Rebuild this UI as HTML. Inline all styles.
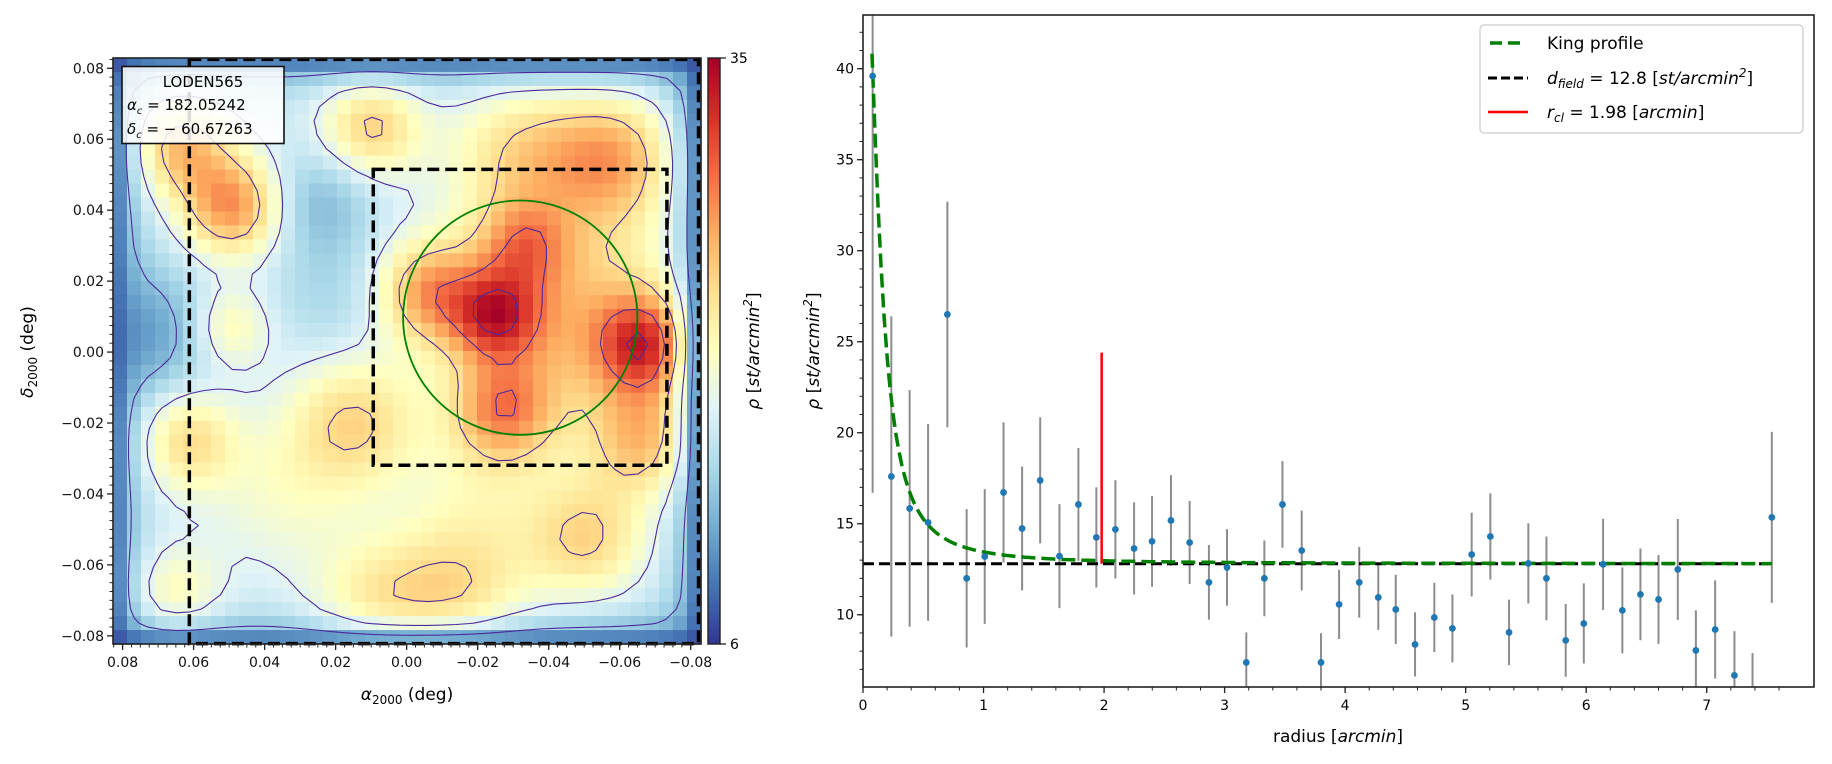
<!DOCTYPE html>
<html><head><meta charset="utf-8"><style>
html,body{margin:0;padding:0;background:#fff;}
svg{display:block;font-family:"DejaVu Sans","Liberation Sans",sans-serif;}
</style></head><body>
<svg id="fig" width="1832" height="764" viewBox="0 0 1832 764" xmlns="http://www.w3.org/2000/svg">
<g id="left"></g>
<g id="right"></g>
</svg>
<script>
const blobRA  = [-0.025,-0.068,-0.006,-0.027,-0.033,-0.058,-0.032,-0.068,-0.045,0.010,0.049,0.064,0.062,0.015,0.050,-0.051,0.008,-0.015,0.066,0.035,-0.02,0.025,0.072,0.020];
const blobDEC = [0.010,0.002,0.017,-0.017,0.030,0.055,0.057,-0.025,0.010,0.064,0.041,0.058,-0.025,-0.020,0.007,-0.053,-0.073,-0.071,-0.069,-0.040,-0.045,0.042,0.005,0.015];
const blobAmp = [11,13,9,9,7,9,6,8,8,8,11,9,7,7,5,7,6,6,5,3,3,-4,-5,-2];
const blobSig = [0.009,0.010,0.010,0.010,0.009,0.013,0.014,0.011,0.024,0.010,0.010,0.010,0.010,0.013,0.008,0.012,0.014,0.014,0.010,0.015,0.015,0.011,0.013,0.012];
const baseDensity = 16.5;
const contourLevels = [13, 18, 23.5, 29, 33];
const mapTicks = [0.08,0.06,0.04,0.02,0.00,-0.02,-0.04,-0.06,-0.08];
const cbarTicks = [35, 6];
const innerBox = [0.0094,-0.0733,0.0515,-0.0319];
const outerBox = [0.0612,-0.0822,0.0825,-0.0822];
const clusterCircle = [-0.032, 0.0097, 0.033];
// ---------- RIGHT PANEL DATA ----------
const radius = [0.08,0.235,0.387,0.54,0.70,0.86,1.01,1.166,1.32,1.47,1.63,1.787,1.936,2.094,2.249,2.398,2.555,2.71,2.87,3.02,3.18,3.33,3.48,3.64,3.80,3.95,4.117,4.275,4.42,4.58,4.74,4.89,5.05,5.205,5.36,5.52,5.67,5.83,5.98,6.14,6.30,6.45,6.60,6.76,6.91,7.07,7.23,7.38,7.54];
const density = [39.6,17.6,15.84,15.07,26.5,12.0,13.2,16.72,14.74,17.38,13.22,16.06,14.25,14.69,13.64,14.03,15.18,13.97,11.78,12.6,7.38,12.0,16.06,13.53,7.38,10.57,11.78,10.95,10.29,8.37,9.85,9.25,13.31,14.3,9.03,12.82,12.0,8.59,9.52,12.77,10.24,11.12,10.84,12.49,8.04,9.19,6.67,5.3,15.35];
const densErr = [22.9,8.8,6.5,5.4,6.2,3.8,3.7,3.85,3.4,3.46,2.86,3.1,2.75,2.7,2.53,2.49,2.49,2.28,2.05,2.1,1.65,2.08,2.38,2.2,1.6,1.9,1.94,1.78,1.9,1.76,1.9,1.87,2.3,2.37,1.8,2.2,2.3,2.0,2.2,2.5,2.36,2.52,2.44,2.77,2.2,2.7,2.43,2.6,4.7];
const dField = 12.8;
const rCluster = 1.98;
const kingCentral = 36.8, kingCore = 0.134;
const xTicksR = [0,1,2,3,4,5,6,7];
const yTicksR = [10,15,20,25,30,35,40];

const NS='http://www.w3.org/2000/svg';
function mk(tag, attrs, parent){const e=document.createElementNS(NS,tag);for(const k in attrs)e.setAttribute(k,attrs[k]);if(parent)parent.appendChild(e);return e;}
const L=document.getElementById('left'), R=document.getElementById('right');

const LX0=113, LX1=701, LY0=58, LY1=644;
const raMax=0.0827, raMin=-0.0829, decMax=0.0829, decMin=-0.0823;
function sxL(a){return LX0+(raMax-a)/(raMax-raMin)*(LX1-LX0);}
function syL(d){return LY0+(decMax-d)/(decMax-decMin)*(LY1-LY0);}
const cmap=[[49,54,149],[69,117,180],[116,173,209],[171,217,233],[224,243,248],[255,255,191],[254,224,144],[253,174,97],[244,109,67],[215,48,39],[165,0,38]];
function col(v){let t=(v-6)/(35-6);t=Math.max(0,Math.min(1,t))*10;const i=Math.min(9,Math.floor(t)),f=t-i;const a=cmap[i],b=cmap[i+1];return `rgb(${Math.round(a[0]+(b[0]-a[0])*f)},${Math.round(a[1]+(b[1]-a[1])*f)},${Math.round(a[2]+(b[2]-a[2])*f)})`;}
function field(a,d){let v=baseDensity;for(let k=0;k<blobRA.length;k++){const dx=a-blobRA[k],dy=d-blobDEC[k];v+=blobAmp[k]*Math.exp(-(dx*dx+dy*dy)/(2*blobSig[k]*blobSig[k]));}
  const ex=Math.min(a-raMin,raMax-a), ey=Math.min(d-decMin,decMax-d);
  const fx=1-Math.exp(-ex/0.005), fy=1-Math.exp(-ey/0.005);
  return 6.5+(v-6.5)*fx*fy;}
const N=42;
const grid=[];
const heat=mk('g',{},L);


for(let j=0;j<N;j++){grid.push([]);for(let i=0;i<N;i++){
  const a=raMax-(i+0.5)/N*(raMax-raMin), d=decMax-(j+0.5)/N*(decMax-decMin);
  const v=field(a,d);grid[j].push(v);
  const x0=sxL(raMax-i/N*(raMax-raMin)), x1=sxL(raMax-(i+1)/N*(raMax-raMin));
  const y0=syL(decMax-j/N*(decMax-decMin)), y1=syL(decMax-(j+1)/N*(decMax-decMin));
  const r=mk('rect',{x:x0.toFixed(2),y:y0.toFixed(2),width:(x1-x0+0.6).toFixed(2),height:(y1-y0+0.6).toFixed(2),fill:col(v)},heat);
  
  
}}
const cw=(LX1-LX0)/N, ch=(LY1-LY0)/N;
function cx(i){return LX0+(i+0.5)*cw;} function cy(j){return LY0+(j+0.5)*ch;}
contourLevels.forEach(lv=>{
  let p='';
  for(let j=0;j<N-1;j++){for(let i=0;i<N-1;i++){
    const v=[grid[j][i],grid[j][i+1],grid[j+1][i+1],grid[j+1][i]];
    const P=[[cx(i),cy(j)],[cx(i+1),cy(j)],[cx(i+1),cy(j+1)],[cx(i),cy(j+1)]];
    const pts=[];
    for(let e=0;e<4;e++){const a=v[e],b=v[(e+1)%4];if((a<lv)!==(b<lv)){const t=(lv-a)/(b-a);pts.push([P[e][0]+(P[(e+1)%4][0]-P[e][0])*t,P[e][1]+(P[(e+1)%4][1]-P[e][1])*t]);}}
    for(let k=0;k+1<pts.length;k+=2)p+=`M${pts[k][0].toFixed(1)},${pts[k][1].toFixed(1)}L${pts[k+1][0].toFixed(1)},${pts[k+1][1].toFixed(1)}`;
  }}
  const c=mk('path',{d:p,stroke:'#4b2a9a','stroke-width':1.1,fill:'none'},L);
  
  
});
function rectD(b){return `M${sxL(b[0])},${syL(b[2])}H${sxL(b[1])}V${syL(b[3])}H${sxL(b[0])}Z`;}
const ob=mk('path',{d:rectD(outerBox),stroke:'#000','stroke-width':3.5,'stroke-dasharray':'12,6',fill:'none'},L);


const ib=mk('path',{d:rectD(innerBox),stroke:'#000','stroke-width':3.5,'stroke-dasharray':'12,6',fill:'none'},L);


const cc=mk('circle',{cx:sxL(clusterCircle[0]),cy:syL(clusterCircle[1]),r:(sxL(0)-sxL(clusterCircle[2])),stroke:'#008000','stroke-width':1.8,fill:'none'},L);


mk('rect',{x:LX0,y:LY0,width:LX1-LX0,height:LY1-LY0,fill:'none',stroke:'#222','stroke-width':1.6},L);
mapTicks.forEach(t=>{
  const x=sxL(t), y=syL(t);
  mk('line',{x1:x,x2:x,y1:LY1,y2:LY1+6,stroke:'#222','stroke-width':1.3},L);
  const tx=mk('text',{x:x,y:LY1+23,'font-size':14,'text-anchor':'middle',fill:'#111'},L);tx.textContent=t.toFixed(2).replace('-','\u2212');
  
  
  mk('line',{x1:LX0-6,x2:LX0,y1:y,y2:y,stroke:'#222','stroke-width':1.3},L);
  const ty=mk('text',{x:LX0-9,y:y+5,'font-size':14,'text-anchor':'end',fill:'#111'},L);ty.textContent=t.toFixed(2).replace('-','\u2212');
  
  
});
for(let t=-0.08;t<=0.0826;t+=0.0025){const x=sxL(t),y=syL(t);
  mk('line',{x1:x,x2:x,y1:LY1,y2:LY1+3.5,stroke:'#222','stroke-width':1},L);
  mk('line',{x1:LX0-3.5,x2:LX0,y1:y,y2:y,stroke:'#222','stroke-width':1},L);}
const ibx=mk('g',{},L);
mk('rect',{x:122,y:66.5,width:162,height:77,fill:'rgba(255,255,255,0.85)',stroke:'#111','stroke-width':1.6},ibx);
let t1=mk('text',{x:203,y:87,'font-size':15,'text-anchor':'middle'},ibx);t1.textContent='LODEN565';
let t2=mk('text',{x:127,y:110,'font-size':15},ibx);t2.innerHTML='<tspan font-style="italic">α</tspan><tspan font-size="10" dy="4" font-style="italic">c</tspan><tspan dy="-4"> = 182.05242</tspan>';
let t3=mk('text',{x:127,y:134,'font-size':15},ibx);t3.innerHTML='<tspan font-style="italic">δ</tspan><tspan font-size="10" dy="4" font-style="italic">c</tspan><tspan dy="-4"> = − 60.67263</tspan>';
let xl=mk('text',{x:407,y:700,'font-size':17,'text-anchor':'middle'},L);xl.innerHTML='<tspan font-style="italic">α</tspan><tspan font-size="12" dy="4">2000</tspan><tspan dy="-4"> (deg)</tspan>';

let yl=mk('text',{x:0,y:0,'font-size':17,'text-anchor':'middle',transform:'translate(33,352) rotate(-90)'},L);yl.innerHTML='<tspan font-style="italic">δ</tspan><tspan font-size="12" dy="4">2000</tspan><tspan dy="-4"> (deg)</tspan>';

const cb=mk('g',{},L);
const defs=mk('defs',{},cb);const lg=mk('linearGradient',{id:'cbg',x1:0,y1:1,x2:0,y2:0},defs);
cmap.forEach((c,i)=>mk('stop',{offset:i/10,'stop-color':`rgb(${c})`},lg));
const CBX=708, CBW=12;
mk('rect',{x:CBX,y:LY0,width:CBW,height:LY1-LY0,fill:'url(#cbg)',stroke:'#222','stroke-width':1.4},cb);
cbarTicks.forEach(v=>{const y=LY1-(v-6)/(35-6)*(LY1-LY0);mk('line',{x1:CBX+CBW,x2:CBX+CBW+6,y1:y,y2:y,stroke:'#222','stroke-width':1.3},cb);
  const t=mk('text',{x:CBX+CBW+10,y:y+5,'font-size':14},cb);t.textContent=v;
  });
let cl=mk('text',{x:0,y:0,'font-size':17,'text-anchor':'middle',transform:'translate(759,351) rotate(-90)'},cb);cl.innerHTML='<tspan font-style="italic">ρ</tspan> [<tspan font-style="italic">st/arcmin</tspan><tspan font-size="12" dy="-7" font-style="italic">2</tspan><tspan dy="7">]</tspan>';


const RX0=863, RX1=1814, RY0=15, RY1=687;
const xR0=0, xR1=7.89, yR0=6.03, yR1=42.95;
function sx(v){return RX0+(v-xR0)/(xR1-xR0)*(RX1-RX0);}
function sy(v){return RY1-(v-yR0)/(yR1-yR0)*(RY1-RY0);}
const clip=mk('clipPath',{id:'rc'},mk('defs',{},R));mk('rect',{x:RX0,y:RY0,width:RX1-RX0,height:RY1-RY0},clip);
const plot=mk('g',{'clip-path':'url(#rc)'},R);
radius.forEach((r,i)=>{
  const e=mk('line',{x1:sx(r),x2:sx(r),y1:sy(density[i]+densErr[i]),y2:sy(density[i]-densErr[i]),stroke:'#8c8c8c','stroke-width':2},plot);
  
});
const dl=mk('line',{x1:sx(0),x2:sx(radius[radius.length-1]),y1:sy(dField),y2:sy(dField),stroke:'#000','stroke-width':3,'stroke-dasharray':'11,5'},plot);

let kp='';for(let k=0;k<=300;k++){const r=radius[0]-0.005+(radius[radius.length-1]-radius[0]+0.005)*k/300;const v=dField+kingCentral/(1+(r/kingCore)**2);kp+=(k?'L':'M')+sx(r).toFixed(1)+','+sy(v).toFixed(1);}
const kl=mk('path',{d:kp,stroke:'#008000','stroke-width':3.5,'stroke-dasharray':'14,6',fill:'none'},plot);

const rl=mk('line',{x1:sx(rCluster),x2:sx(rCluster),y1:sy(dField),y2:sy(24.4),stroke:'#ff0000','stroke-width':2.5},plot);

radius.forEach((r,i)=>{const c=mk('circle',{cx:sx(r),cy:sy(density[i]),r:3.4,fill:'#1f77b4'},plot);
  });
mk('rect',{x:RX0,y:RY0,width:RX1-RX0,height:RY1-RY0,fill:'none',stroke:'#222','stroke-width':1.6},R);
xTicksR.forEach(v=>{const x=sx(v);mk('line',{x1:x,x2:x,y1:RY1,y2:RY1+6,stroke:'#222','stroke-width':1.3},R);
  const t=mk('text',{x:x,y:RY1+23,'font-size':14,'text-anchor':'middle'},R);t.textContent=v;
  });
for(let v=0;v<=7.8;v+=0.2){const x=sx(v);mk('line',{x1:x,x2:x,y1:RY1,y2:RY1+3.5,stroke:'#222','stroke-width':1},R);}
yTicksR.forEach(v=>{const y=sy(v);mk('line',{x1:RX0-6,x2:RX0,y1:y,y2:y,stroke:'#222','stroke-width':1.3},R);
  const t=mk('text',{x:RX0-9,y:y+5,'font-size':14,'text-anchor':'end'},R);t.textContent=v;
  });
for(let v=7;v<=42;v++){const y=sy(v);mk('line',{x1:RX0-3.5,x2:RX0,y1:y,y2:y,stroke:'#222','stroke-width':1},R);}
let rxl=mk('text',{x:1338,y:742,'font-size':17,'text-anchor':'middle'},R);rxl.innerHTML='radius [<tspan font-style="italic">arcmin</tspan>]';

let ryl=mk('text',{x:0,y:0,'font-size':17,'text-anchor':'middle',transform:'translate(819,351) rotate(-90)'},R);ryl.innerHTML='<tspan font-style="italic">ρ</tspan> [<tspan font-style="italic">st/arcmin</tspan><tspan font-size="12" dy="-7" font-style="italic">2</tspan><tspan dy="7">]</tspan>';

const lgd=mk('g',{},R);
mk('rect',{x:1480,y:25,width:323,height:108,rx:4,fill:'rgba(255,255,255,0.9)',stroke:'#ccc','stroke-width':1.2},lgd);
mk('line',{x1:1490,x2:1526,y1:43,y2:43,stroke:'#008000','stroke-width':3.5,'stroke-dasharray':'12,6'},lgd);
mk('line',{x1:1488,x2:1528,y1:78,y2:78,stroke:'#000','stroke-width':3,'stroke-dasharray':'9,4'},lgd);
mk('line',{x1:1488,x2:1528,y1:112,y2:112,stroke:'#ff0000','stroke-width':2.5},lgd);
let l1=mk('text',{x:1547,y:49,'font-size':17},lgd);l1.textContent='King profile';

let l2=mk('text',{x:1547,y:84,'font-size':17},lgd);l2.innerHTML='<tspan font-style="italic">d</tspan><tspan font-size="12" dy="4" font-style="italic">field</tspan><tspan dy="-4"> = 12.8 [</tspan><tspan font-style="italic">st/arcmin</tspan><tspan font-size="12" dy="-7" font-style="italic">2</tspan><tspan dy="7">]</tspan>';

let l3=mk('text',{x:1547,y:118,'font-size':17},lgd);l3.innerHTML='<tspan font-style="italic">r</tspan><tspan font-size="12" dy="4" font-style="italic">cl</tspan><tspan dy="-4"> = 1.98 [</tspan><tspan font-style="italic">arcmin</tspan>]';

</script>
</body></html>
